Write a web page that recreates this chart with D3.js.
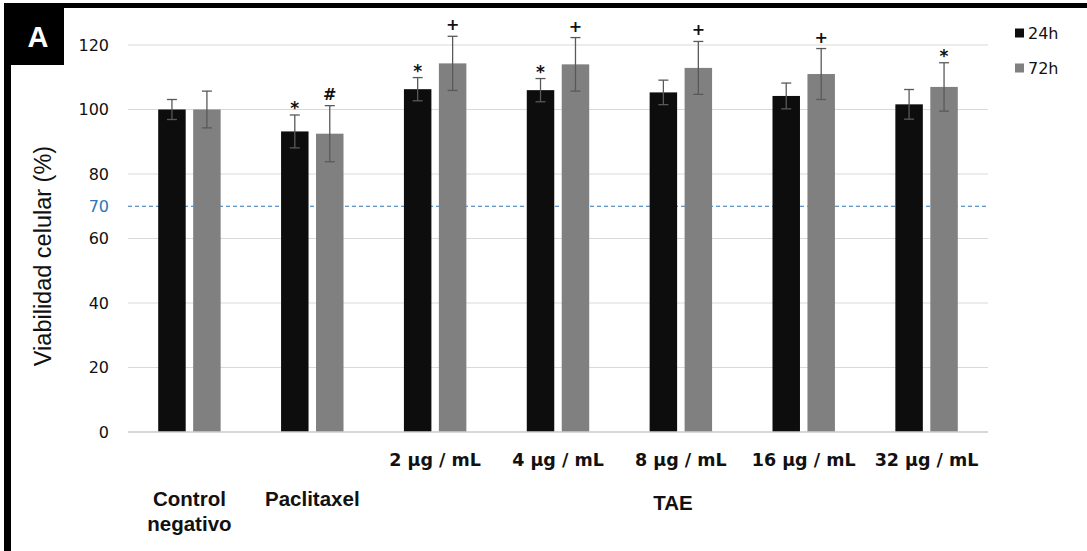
<!DOCTYPE html>
<html><head><meta charset="utf-8">
<script src="https://cdn.jsdelivr.net/npm/d3@7"></script>
<style>body{margin:0;background:#fff}svg{display:block}</style>
</head><body>
<svg id="c" width="1087" height="551"></svg>
<script>
const categories = ["Control negativo","Paclitaxel","2 µg / mL","4 µg / mL","8 µg / mL","16 µg / mL","32 µg / mL"];
const series = ["24h","72h"];
const values24 = [100, 93.2, 106.3, 106, 105.3, 104.2, 101.6];
const errors24 = [3.1, 5.1, 3.6, 3.6, 3.8, 4.0, 4.6];
const values72 = [100, 92.5, 114.3, 114, 112.9, 111, 107];
const errors72 = [5.7, 8.7, 8.4, 8.3, 8.2, 7.9, 7.5];
const marks24 = ["", "*", "*", "*", "", "", ""];
const marks72 = ["", "#", "+", "+", "+", "+", "*"];
const yTicks = [0, 20, 40, 60, 80, 100, 120];
const threshold = 70;
const concLabels = ["", "", "2 µg / mL","4 µg / mL","8 µg / mL","16 µg / mL","32 µg / mL"];
const groupLabels = [["Control","negativo"],["Paclitaxel"]];
const colors = {"24h":"#0d0d0d","72h":"#808080"};

const svg = d3.select("#c");
const x = d3.scaleBand().domain(categories).range([128, 988]).padding(0);
const xs = d3.scaleBand().domain(series).range([0, x.bandwidth()]).paddingInner(0.214).paddingOuter(0.864);
const y = d3.scaleLinear().domain([0, 120]).range([432, 45]);

// frame
svg.append("rect").attr("x",4).attr("y",3).attr("width",7).attr("height",548).attr("fill","#000");
svg.append("rect").attr("x",4).attr("y",3).attr("width",1083).attr("height",5).attr("fill","#000");
svg.append("rect").attr("x",4).attr("y",3).attr("width",60).attr("height",62).attr("fill","#000");
svg.append("text").attr("x",38).attr("y",47).attr("text-anchor","middle")
  .attr("font-family","Liberation Sans, Arial").attr("font-weight","bold").attr("font-size",29)
  .attr("fill","#fff").text("A");

// grid
svg.append("g").selectAll("line").data(yTicks).join("line")
  .attr("x1",128).attr("x2",988).attr("y1",d=>y(d)).attr("y2",d=>y(d))
  .attr("stroke","#d9d9d9").attr("stroke-width",1.2);

// y axis labels
const yAxis = svg.append("g").attr("transform","translate(112,0)")
  .call(d3.axisLeft(y).tickValues(yTicks).tickSize(0).tickPadding(0));
yAxis.select(".domain").remove();
yAxis.selectAll("text").attr("font-family","DejaVu Sans").attr("font-size",16).attr("fill","#111").attr("dx","-3");
svg.append("text").attr("x",109).attr("y",y(threshold)).attr("dy","0.36em").attr("text-anchor","end")
  .attr("font-family","DejaVu Sans").attr("font-size",16).attr("fill","#2e75b6").text(threshold);

// threshold line
svg.append("line").attr("x1",128).attr("x2",988).attr("y1",y(threshold)).attr("y2",y(threshold))
  .attr("stroke","#2e75b6").attr("stroke-width",1).attr("stroke-dasharray","4,3");

// bars
const data = categories.map((c,i)=>({c, rows:[
  {s:"24h", v:values24[i], e:errors24[i], m:marks24[i]},
  {s:"72h", v:values72[i], e:errors72[i], m:marks72[i]}]}));
const g = svg.append("g").selectAll("g").data(data).join("g")
  .attr("transform",d=>`translate(${x(d.c)},0)`);
const b = g.selectAll("g").data(d=>d.rows).join("g");
b.append("rect").attr("x",d=>xs(d.s)).attr("width",xs.bandwidth())
  .attr("y",d=>y(d.v)).attr("height",d=>y(0)-y(d.v)).attr("fill",d=>colors[d.s]);
const cx = d=>xs(d.s)+xs.bandwidth()/2;
b.append("line").attr("x1",cx).attr("x2",cx).attr("y1",d=>y(d.v+d.e)).attr("y2",d=>y(d.v-d.e))
  .attr("stroke","#595959").attr("stroke-width",1.3);
b.append("line").attr("x1",d=>cx(d)-5).attr("x2",d=>cx(d)+5).attr("y1",d=>y(d.v+d.e)).attr("y2",d=>y(d.v+d.e))
  .attr("stroke","#595959").attr("stroke-width",1.3);
b.append("line").attr("x1",d=>cx(d)-5).attr("x2",d=>cx(d)+5).attr("y1",d=>y(d.v-d.e)).attr("y2",d=>y(d.v-d.e))
  .attr("stroke","#595959").attr("stroke-width",1.3);
b.filter(d=>d.m).append("text").attr("x",cx)
  .attr("y",d=>y(d.v+d.e)-(d.m==="*"?1:6)).attr("text-anchor","middle")
  .attr("font-family","DejaVu Sans").attr("font-weight","bold").attr("font-size",d=>d.m==="*"?17:16).attr("fill","#111").text(d=>d.m);

// axis line
svg.append("line").attr("x1",128).attr("x2",988).attr("y1",y(0)).attr("y2",y(0))
  .attr("stroke","#d0d0d0").attr("stroke-width",1.5);

// concentration labels
svg.append("g").selectAll("text").data(categories.filter((c,i)=>concLabels[i])).join("text")
  .attr("x",d=>x(d)+x.bandwidth()/2).attr("y",466).attr("text-anchor","middle")
  .attr("font-family","DejaVu Sans").attr("font-weight","bold").attr("font-size",17.5)
  .attr("fill","#111")
  .text(d=>concLabels[categories.indexOf(d)]);

// group labels
groupLabels.forEach((lines,i)=>{
  const t = svg.append("text").attr("y",506)
    .attr("text-anchor","middle").attr("font-family","Liberation Sans, Arial").attr("font-weight","bold")
    .attr("font-size",20.5).attr("fill","#111");
  lines.forEach((l,j)=>t.append("tspan").attr("x",x(categories[i])+x.bandwidth()/2).attr("dy",j?25:0).text(l));
});
svg.append("text").attr("x",673).attr("y",510).attr("text-anchor","middle")
  .attr("font-family","Liberation Sans, Arial").attr("font-weight","bold").attr("font-size",20.5).attr("fill","#111").text("TAE");

// y title
svg.append("text").attr("transform","translate(51,256) rotate(-90)").attr("text-anchor","middle")
  .attr("font-family","Liberation Sans, Arial").attr("font-size",23.5).attr("fill","#111").text("Viabilidad celular (%)");

// legend
const lg = svg.append("g").selectAll("g").data(series).join("g")
  .attr("transform",(d,i)=>`translate(1015,${33+i*35})`);
lg.append("rect").attr("x",0).attr("y",-4.5).attr("width",9).attr("height",9).attr("fill",d=>colors[d]);
lg.append("text").attr("x",13).attr("y",0).attr("dy","0.36em").attr("font-family","DejaVu Sans")
  .attr("font-size",16).attr("fill","#111").text(d=>d);
</script>
</body></html>
